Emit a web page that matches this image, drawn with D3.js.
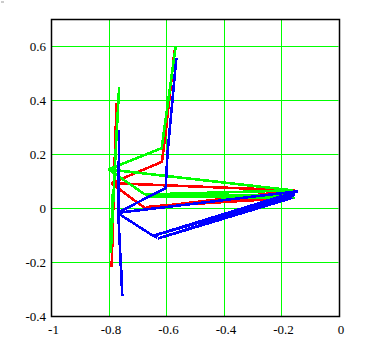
<!DOCTYPE html>
<html>
<head>
<meta charset="utf-8">
<script src="https://cdn.jsdelivr.net/npm/d3@7"></script>
<style>
  body { margin: 0; background: #fff; }
  svg { display: block; }
</style>
</head>
<body>
<svg id="chart"></svg>
<script>
// tick values
var xTicks = [-1, -0.8, -0.6, -0.4, -0.2, 0],
    yTicks = [-0.4, -0.2, 0, 0.2, 0.4, 0.6],
    xGrid = [-0.8, -0.6, -0.4, -0.2],
    yGrid = [-0.2, 0, 0.2, 0.4, 0.6];

// red trajectory (several pieces)
var redMain = [[-0.570, 0.585], [-0.600, 0.29], [-0.614, 0.171], [-0.790, 0.092],
               [-0.151, 0.065], [-0.674, 0.000], [-0.165, 0.045], [-0.660, 0.005], [-0.170, 0.037]],
    redDiag = [[-0.790, 0.092], [-0.674, 0.000]],
    redVert = [[-0.772, 0.389], [-0.781, 0.090], [-0.789, -0.217]];

// green trajectory
var greenMain = [[-0.566, 0.600], [-0.592, 0.400], [-0.615, 0.222], [-0.800, 0.143],
                 [-0.157, 0.065], [-0.673, 0.050], [-0.157, 0.045], [-0.670, 0.043], [-0.152, 0.037]],
    greenDiag = [[-0.800, 0.143], [-0.673, 0.050]],
    greenVert = [[-0.763, 0.448], [-0.778, 0.150], [-0.792, -0.166], [-0.786, 0.050]];

// blue trajectory
var blueMain = [[-0.564, 0.556], [-0.595, 0.200], [-0.601, 0.074], [-0.769, -0.018],
                [-0.142, 0.062], [-0.645, -0.103], [-0.152, 0.048], [-0.628, -0.113], [-0.160, 0.038]],
    blueDiag = [[-0.769, -0.018], [-0.645, -0.103], [-0.630, -0.110]],
    blueVert = [[-0.763, 0.290], [-0.766, -0.020], [-0.752, -0.327], [-0.757, -0.200]];

var series = [
  {color: "#ff0000", paths: [redMain, redDiag, redVert]},
  {color: "#00ff00", paths: [greenMain, greenDiag, greenVert]},
  {color: "#0000ff", paths: [blueMain, blueDiag, blueVert]}
];

var width = 377, height = 341,
    plot = {left: 51, right: 338.5, top: 19, bottom: 316};

var svg = d3.select("#chart")
  .attr("width", width)
  .attr("height", height);

// little grey mark in the corner
svg.append("rect")
  .attr("x", 1).attr("y", 1).attr("width", 3).attr("height", 2)
  .attr("fill", "#cccccc");

var x = d3.scaleLinear().domain([-1, 0]).range([plot.left, plot.right]);
var y = d3.scaleLinear().domain([-0.4, 0.7]).range([plot.bottom, plot.top]);

// grid
svg.append("g").selectAll("line")
  .data(xGrid)
  .enter().append("line")
    .attr("x1", function(d) { return Math.round(x(d)) + 0.5; })
    .attr("x2", function(d) { return Math.round(x(d)) + 0.5; })
    .attr("y1", plot.top)
    .attr("y2", plot.bottom)
    .attr("stroke", "#00ff00")
    .attr("stroke-width", 1);

svg.append("g").selectAll("line")
  .data(yGrid)
  .enter().append("line")
    .attr("y1", function(d) { return Math.round(y(d)) + 0.5; })
    .attr("y2", function(d) { return Math.round(y(d)) + 0.5; })
    .attr("x1", plot.left)
    .attr("x2", plot.right)
    .attr("stroke", "#00ff00")
    .attr("stroke-width", 1);

// trajectories
var line = d3.line()
  .x(function(d) { return x(d[0]); })
  .y(function(d) { return y(d[1]); });

series.forEach(function(s) {
  svg.append("g").selectAll("path")
    .data(s.paths)
    .enter().append("path")
      .attr("d", line)
      .attr("fill", "none")
      .attr("stroke", s.color)
      .attr("stroke-width", 2.6)
      .attr("stroke-linejoin", "miter")
      .style("shape-rendering", "crispEdges");
});

// frame
svg.append("rect")
  .attr("x", Math.round(plot.left) + 0.5)
  .attr("y", Math.round(plot.top) + 0.5)
  .attr("width", Math.round(plot.right) - Math.round(plot.left))
  .attr("height", Math.round(plot.bottom) - Math.round(plot.top))
  .attr("fill", "none")
  .attr("stroke", "#000")
  .attr("stroke-width", 1.5);

// axes (labels only)
var fmt = function(d) { return String(+d.toFixed(1)); };

var xAxis = svg.append("g")
  .attr("transform", "translate(2," + plot.bottom + ")")
  .call(d3.axisBottom(x).tickValues(xTicks).tickSize(0).tickPadding(9).tickFormat(fmt));

var yAxis = svg.append("g")
  .attr("transform", "translate(" + (plot.left - 5) + ",0)")
  .call(d3.axisLeft(y).tickValues(yTicks).tickSize(0).tickPadding(0).tickFormat(fmt));

[xAxis, yAxis].forEach(function(a) {
  a.select(".domain").remove();
  a.selectAll("text")
    .style("font-family", "'Liberation Serif', 'Times New Roman', serif")
    .style("font-size", "13px")
    .attr("fill", "#000");
});
</script>
</body>
</html>
